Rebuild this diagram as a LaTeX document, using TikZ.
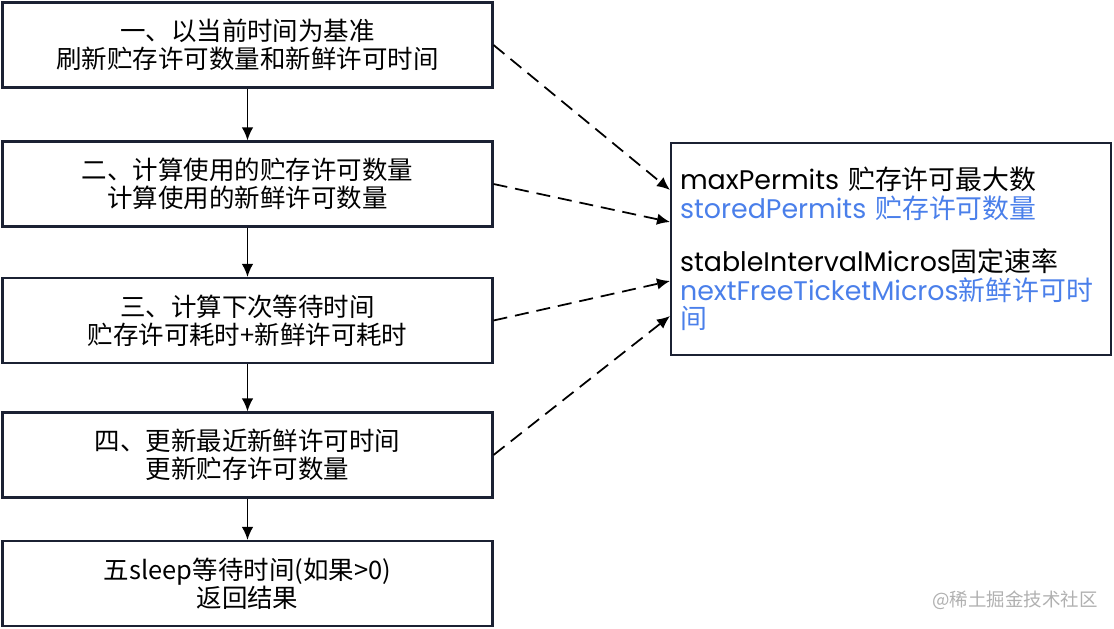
\documentclass[tikz,border=0pt]{standalone}
\usepackage{fontspec}
\setmainfont{Noto Sans CJK SC}
\newfontfamily\fieldfont{Poppins}
\usetikzlibrary{arrows.meta}
\definecolor{boxline}{HTML}{1B2133}
\definecolor{permblue}{HTML}{4A7FEA}
\definecolor{markgray}{HTML}{B0B0B0}

\begin{document}
\begin{tikzpicture}[
            x=0.02cm, y=-0.02cm,
            >=Latex,
            line cap=butt,
            stepbox/.style={draw=boxline, line width=1.2pt, minimum width=9.8cm, minimum height=1.7cm,
                inner sep=0pt, align=center, font=\fontsize{14.5pt}{16pt}\selectfont},
            infobox/.style={draw=boxline, line width=1.2pt, minimum width=8.8cm, minimum height=4.24cm,
                inner xsep=0.18cm, inner ysep=0pt, text width=8.44cm, align=left,
                font=\fontsize{15.3pt}{16.2pt}\selectfont},
            flow/.style={line width=1pt, -{Latex[length=2.6mm, width=2.3mm]}},
            feed/.style={line width=1pt, dash pattern=on 8pt off 4.5pt, -{Latex[length=2.6mm, width=2.3mm]}},
            mark label/.style={text=markgray, font=\fontsize{10.5pt}{12pt}\selectfont, inner sep=0pt},
        ]
        \useasboundingbox (0,0) rectangle (1114,628);

        % left column of steps
        \node[stepbox] (s1) at (247.5,45) {一、以当前时间为基准\\刷新贮存许可数量和新鲜许可时间};
        \node[stepbox] (s2) at (247.5,184) {二、计算使用的贮存许可数量\\计算使用的新鲜许可数量};
        \node[stepbox] (s3) at (247.5,320.5) {三、计算下次等待时间\\贮存许可耗时+新鲜许可耗时};
        \node[stepbox] (s4) at (247.5,455) {四、更新最近新鲜许可时间\\更新贮存许可数量};
        \node[stepbox] (s5) at (247.5,583.5) {五sleep等待时间(如果>0)\\返回结果};

        % fields box
        \node[infobox] (info) at (891,249) {{\fieldfont maxPermits} 贮存许可最大数\\
            \textcolor{permblue}{{\fieldfont storedPermits} 贮存许可数量}\\[0.5cm]
            {\fieldfont stableIntervalMicros}固定速率\\
            \textcolor{permblue}{{\fieldfont nextFreeTicketMicros}新鲜许可时}\\
            \textcolor{permblue}{间}};

        \coordinate (in1) at (info.west |- 0,190);
        \coordinate (in2) at (info.west |- 0,222);
        \coordinate (in3) at (info.west |- 0,281);
        \coordinate (in4) at (info.west |- 0,316);

        \draw[flow] (s1) -- (s2);
        \draw[flow] (s2) -- (s3);
        \draw[flow] (s3) -- (s4);
        \draw[flow] (s4) -- (s5);

        \draw[feed] (s1.east) -- (in1);
        \draw[feed] (s2.east) -- (in2);
        \draw[feed] (s3.east) -- (in3);
        \draw[feed] (s4.east) -- (in4);

        \node[mark label] (mark) at (1015,600) {@稀土掘金技术社区};
        \end{tikzpicture}
\end{document}
